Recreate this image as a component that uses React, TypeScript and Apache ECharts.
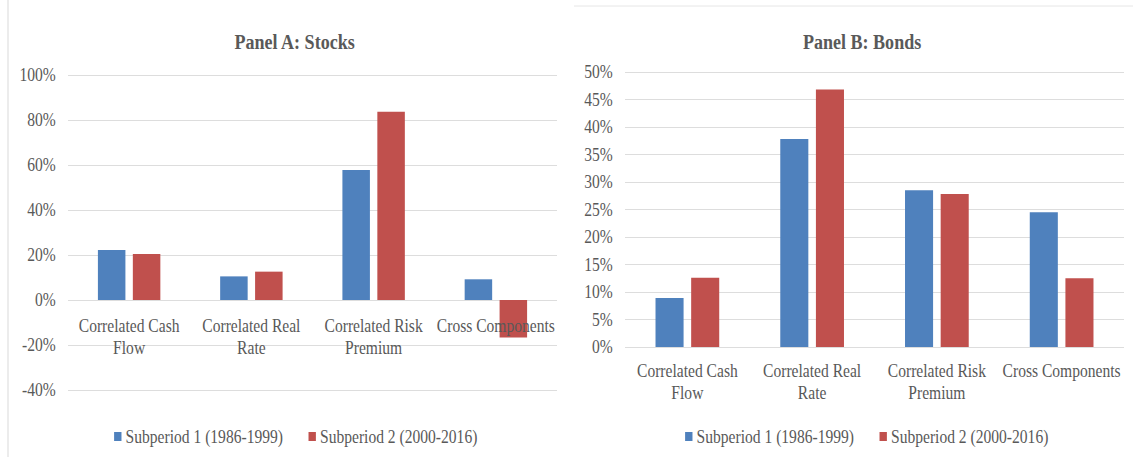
import React, { useEffect, useRef } from "react";
import * as echarts from "echarts";

// ---- data ----
const categories = [
  "Correlated Cash\nFlow",
  "Correlated Real\nRate",
  "Correlated Risk\nPremium",
  "Cross Components",
];
const seriesNames = ["Subperiod 1 (1986-1999)", "Subperiod 2 (2000-2016)"];
const stocksSub1 = [22.2, 10.5, 57.8, 9.2];
const stocksSub2 = [20.4, 12.6, 83.7, -16.7];
const bondsSub1 = [8.9, 37.8, 28.5, 24.5];
const bondsSub2 = [12.6, 46.8, 27.8, 12.5];
const titles = ["Panel A: Stocks", "Panel B: Bonds"];
const stocksAxis = { min: -40, max: 100, interval: 20 };
const bondsAxis = { min: 0, max: 50, interval: 5 };

// ---- layout ----
const SX = 0.82; // horizontal compression of the reference picture
const W = 1133;
const H = 457;
const CW = Math.round(W / SX);
const px = (x: number) => x / SX;

const FONT = "'Liberation Serif', 'Times New Roman', serif";
const TEXT = "#595959";
const GRID = "#d9d9d9";
const BLUE = "#4F81BD";
const RED = "#C0504D";

const gridA = { top: 75, bottom: H - 390 };
const gridB = { top: 72, bottom: H - 347 };

export default function App() {
  const ref = useRef<HTMLDivElement>(null);

  useEffect(() => {
    if (!ref.current) return;
    const chart = echarts.init(ref.current, undefined, { renderer: "svg" });

    const axisLabel = {
      color: TEXT,
      fontFamily: FONT,
      fontSize: 19,
    };

    // distance from the bottom of a grid up to the value-zero line
    const zeroOffset = (g: { top: number; bottom: number }, a: { min: number; max: number }) => {
      const h = H - g.top - g.bottom;
      return ((0 - a.min) / (a.max - a.min)) * h;
    };

    const makeX = (gridIndex: number, margin: number, offset: number) => ({
      type: "category" as const,
      gridIndex,
      data: categories,
      z: 5,
      offset: -offset,
      axisLine: { show: false, onZero: false },
      axisTick: { show: false },
      axisLabel: {
        ...axisLabel,
        interval: 0,
        lineHeight: 22,
        margin,
      },
    });

    const makeY = (gridIndex: number, a: { min: number; max: number; interval: number }) => ({
      type: "value" as const,
      gridIndex,
      min: a.min,
      max: a.max,
      interval: a.interval,
      axisLine: { show: false },
      axisTick: { show: false },
      splitLine: { lineStyle: { color: GRID, width: 1 } },
      axisLabel: { ...axisLabel, margin: 15, formatter: "{value}%" },
    });

    const makeBar = (name: string, data: number[], color: string, idx: number) => ({
      type: "bar" as const,
      name,
      data,
      xAxisIndex: idx,
      yAxisIndex: idx,
      barWidth: "22.5%",
      barGap: "27%",
      itemStyle: { color },
    });

    const legendBase = {
      orient: "horizontal" as const,
      top: 421.5,
      itemWidth: 9,
      itemHeight: 9,
      itemGap: 31,
      icon: "rect",
      data: seriesNames,
      textStyle: { color: TEXT, fontFamily: FONT, fontSize: 19, lineHeight: 20 },
    };

    const titleStyle = { color: TEXT, fontFamily: FONT, fontSize: 22, fontWeight: "bold", lineHeight: 22 };

    chart.setOption({
      animation: false,
      backgroundColor: "#ffffff",
      textStyle: { fontFamily: FONT },
      title: [
        { text: titles[0], left: px(290.5), top: 25, textAlign: "center", textStyle: titleStyle },
        { text: titles[1], left: px(858), top: 25, textAlign: "center", textStyle: titleStyle },
      ],
      legend: [
        { ...legendBase, left: px(110) },
        { ...legendBase, left: px(681) },
      ],
      grid: [
        { left: px(68), right: CW - px(557), ...gridA },
        { left: px(625), right: CW - px(1124), ...gridB },
      ],
      xAxis: [
        makeX(0, 14.6, zeroOffset(gridA, stocksAxis)),
        makeX(1, 12.6, zeroOffset(gridB, bondsAxis)),
      ],
      yAxis: [makeY(0, stocksAxis), makeY(1, bondsAxis)],
      series: [
        makeBar(seriesNames[0], stocksSub1, BLUE, 0),
        makeBar(seriesNames[1], stocksSub2, RED, 0),
        makeBar(seriesNames[0], bondsSub1, BLUE, 1),
        makeBar(seriesNames[1], bondsSub2, RED, 1),
      ],
      graphic: [
        {
          type: "line",
          shape: { x1: px(8), y1: 0, x2: px(8), y2: H },
          style: { stroke: GRID, lineWidth: 1.2 },
          silent: true,
        },
        {
          type: "line",
          shape: { x1: px(574), y1: 6, x2: CW, y2: 6 },
          style: { stroke: "#e3e3e3", lineWidth: 1 },
          silent: true,
        },
      ],
    });

    return () => {
      chart.dispose();
    };
  }, []);

  return (
    <div
      style={{
        position: "fixed",
        left: 0,
        top: 0,
        width: W,
        height: H,
        overflow: "hidden",
        background: "#fff",
      }}
    >
      <div
        ref={ref}
        style={{
          width: CW,
          height: H,
          transform: `scaleX(${SX})`,
          transformOrigin: "0 0",
        }}
      />
    </div>
  );
}
